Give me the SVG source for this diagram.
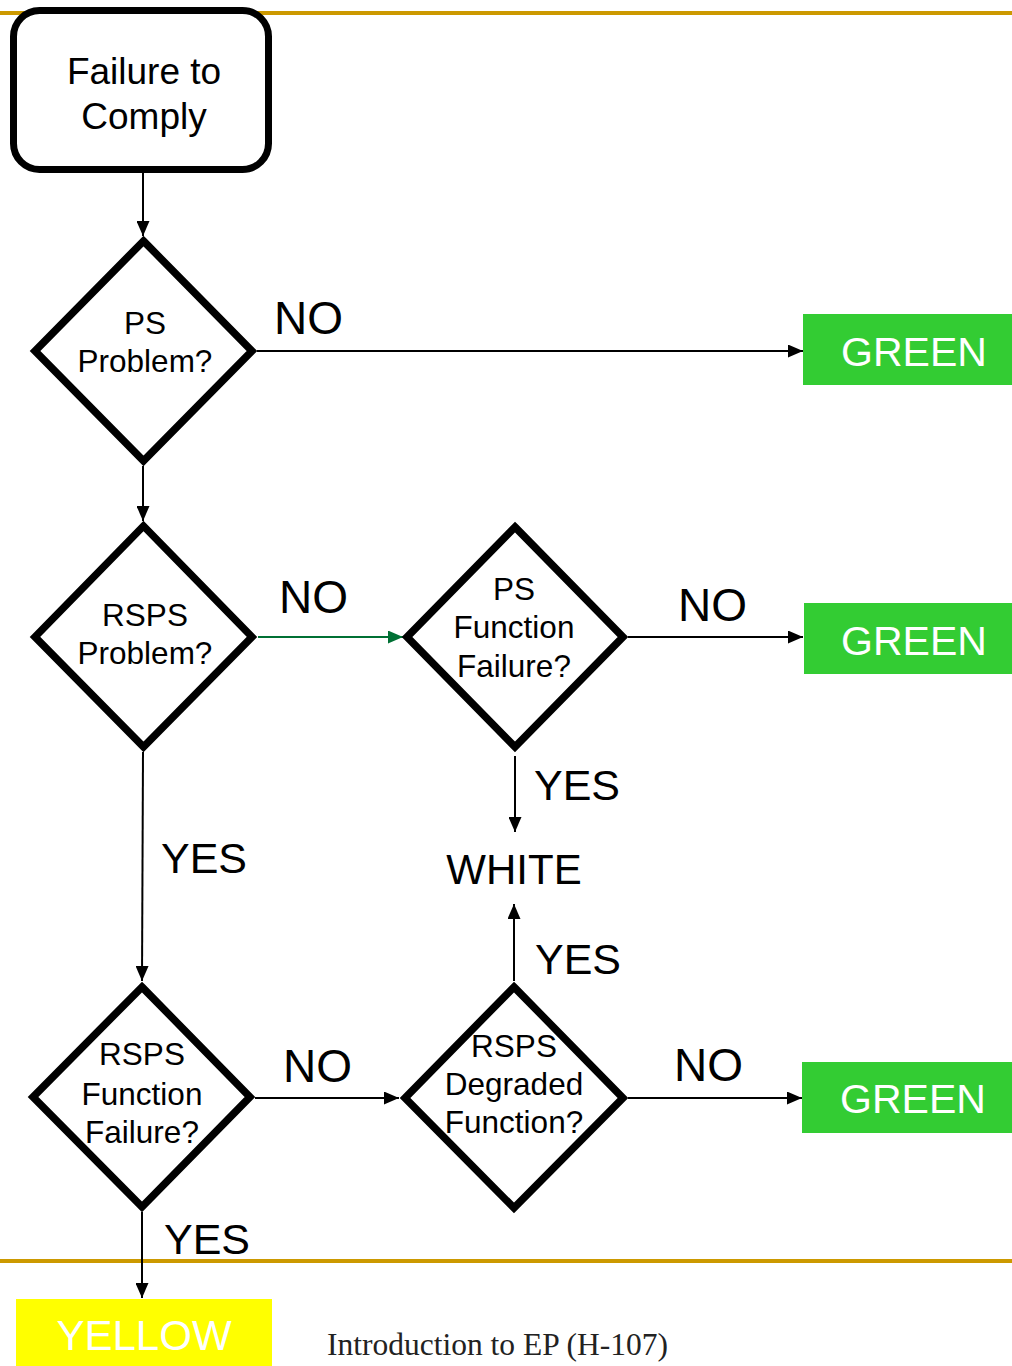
<svg xmlns="http://www.w3.org/2000/svg" width="1012" height="1366" viewBox="0 0 1012 1366">
<defs>
<marker id="ah" markerUnits="userSpaceOnUse" markerWidth="15" markerHeight="13" refX="15" refY="6.5" orient="auto">
<path d="M0,0 L15,6.5 L0,13 z" fill="#000"/>
</marker>
<marker id="ahg" markerUnits="userSpaceOnUse" markerWidth="15" markerHeight="13" refX="15" refY="6.5" orient="auto">
<path d="M0,0 L15,6.5 L0,13 z" fill="#007034"/>
</marker>
<style>
.rule{stroke:#cc9900;stroke-width:4}
.dia{fill:#fff;stroke:#000;stroke-width:7.5;stroke-linejoin:miter}
.t{font-family:"Liberation Sans",Arial,sans-serif;fill:#000;text-anchor:middle}
.q{font-size:31.5px}
.lab{font-family:"Liberation Sans",Arial,sans-serif;font-size:46px;fill:#000}
.yes{font-size:43px}
.green{fill:#33cc33}
.gt{font-family:"Liberation Sans",Arial,sans-serif;font-size:41px;fill:#fff;text-anchor:middle}
.c{stroke:#000;stroke-width:2;fill:none;marker-end:url(#ah)}
.cg{stroke:#007034;stroke-width:2;fill:none;marker-end:url(#ahg)}
</style>
</defs>
<rect width="1012" height="1366" fill="#fff"/>
<line class="rule" x1="0" y1="13" x2="1012" y2="13"/>
<line class="rule" x1="0" y1="1261" x2="1012" y2="1261"/>

<g id="connectors">
<line class="c" x1="143" y1="173" x2="143" y2="236"/>
<line class="c" x1="257" y1="351" x2="803" y2="351"/>
<line class="c" x1="143" y1="466" x2="143" y2="521"/>
<line class="cg" x1="258" y1="637" x2="403" y2="637"/>
<line class="c" x1="628" y1="637" x2="803" y2="637"/>
<line class="c" x1="515" y1="756" x2="515" y2="832"/>
<line class="c" x1="514" y1="981" x2="514" y2="904"/>
<line class="c" x1="143" y1="752" x2="142" y2="981"/>
<line class="c" x1="255" y1="1098" x2="399" y2="1098"/>
<line class="c" x1="628" y1="1098" x2="802" y2="1098"/>
<line class="c" x1="142" y1="1212" x2="142" y2="1298"/>
<text class="lab" x="274" y="334">NO</text>
<text class="lab" x="279" y="613">NO</text>
<text class="lab" x="678" y="621">NO</text>
<text class="lab" x="674" y="1081">NO</text>
<text class="lab" x="283" y="1082">NO</text>
<text class="lab yes" x="534" y="800">YES</text>
<text class="lab yes" x="535" y="974">YES</text>
<text class="lab yes" x="161" y="873">YES</text>
<text class="lab yes" x="164" y="1254">YES</text>
</g>

<g id="start">
<rect x="13.5" y="10.5" width="255" height="159" rx="26" fill="#fff" stroke="#000" stroke-width="7"/>
<text class="t" x="144" y="84" font-size="37">Failure to</text>
<text class="t" x="144" y="129" font-size="37">Comply</text>
</g>

<g id="ps-problem">
<polygon class="dia" points="143.5,241 252,351 143.5,461 35,351"/>
<text class="t q" x="145" y="334">PS</text>
<text class="t q" x="145" y="372">Problem?</text>
</g>

<g id="rsps-problem">
<polygon class="dia" points="143.5,526 252,637 143.5,747 35,637"/>
<text class="t q" x="145" y="626">RSPS</text>
<text class="t q" x="145" y="664">Problem?</text>
</g>

<g id="ps-function-failure">
<polygon class="dia" points="515,527 623,637 515,747 407,637"/>
<text class="t q" x="514" y="600">PS</text>
<text class="t q" x="514" y="638">Function</text>
<text class="t q" x="514" y="677">Failure?</text>
</g>

<g id="rsps-degraded">
<polygon class="dia" points="514,987 623,1098 514,1208 405,1098"/>
<text class="t q" x="514" y="1057">RSPS</text>
<text class="t q" x="514" y="1095">Degraded</text>
<text class="t q" x="514" y="1133">Function?</text>
</g>

<g id="rsps-function-failure">
<polygon class="dia" points="142,987 250,1097 142,1207 33,1097"/>
<text class="t q" x="142" y="1065">RSPS</text>
<text class="t q" x="142" y="1105">Function</text>
<text class="t q" x="142" y="1143">Failure?</text>
</g>

<g id="green1">
<rect class="green" x="803" y="314" width="209" height="71"/>
<text class="gt" x="914" y="366">GREEN</text>
</g>
<g id="green2">
<rect class="green" x="804" y="603" width="208" height="71"/>
<text class="gt" x="914" y="655">GREEN</text>
</g>
<g id="green3">
<rect class="green" x="802" y="1062" width="210" height="71"/>
<text class="gt" x="913" y="1113">GREEN</text>
</g>

<g id="white">
<text class="t" x="514" y="884" font-size="42">WHITE</text>
</g>

<g id="yellow">
<rect x="16" y="1299" width="256" height="67" fill="#ffff00"/>
<text class="t" x="144" y="1350" font-size="42" style="fill:#fff">YELLOW</text>
</g>

<text x="327" y="1355" font-family="'Liberation Serif','Times New Roman',serif" font-size="31.5" fill="#222">Introduction to EP (H-107)</text>
</svg>
